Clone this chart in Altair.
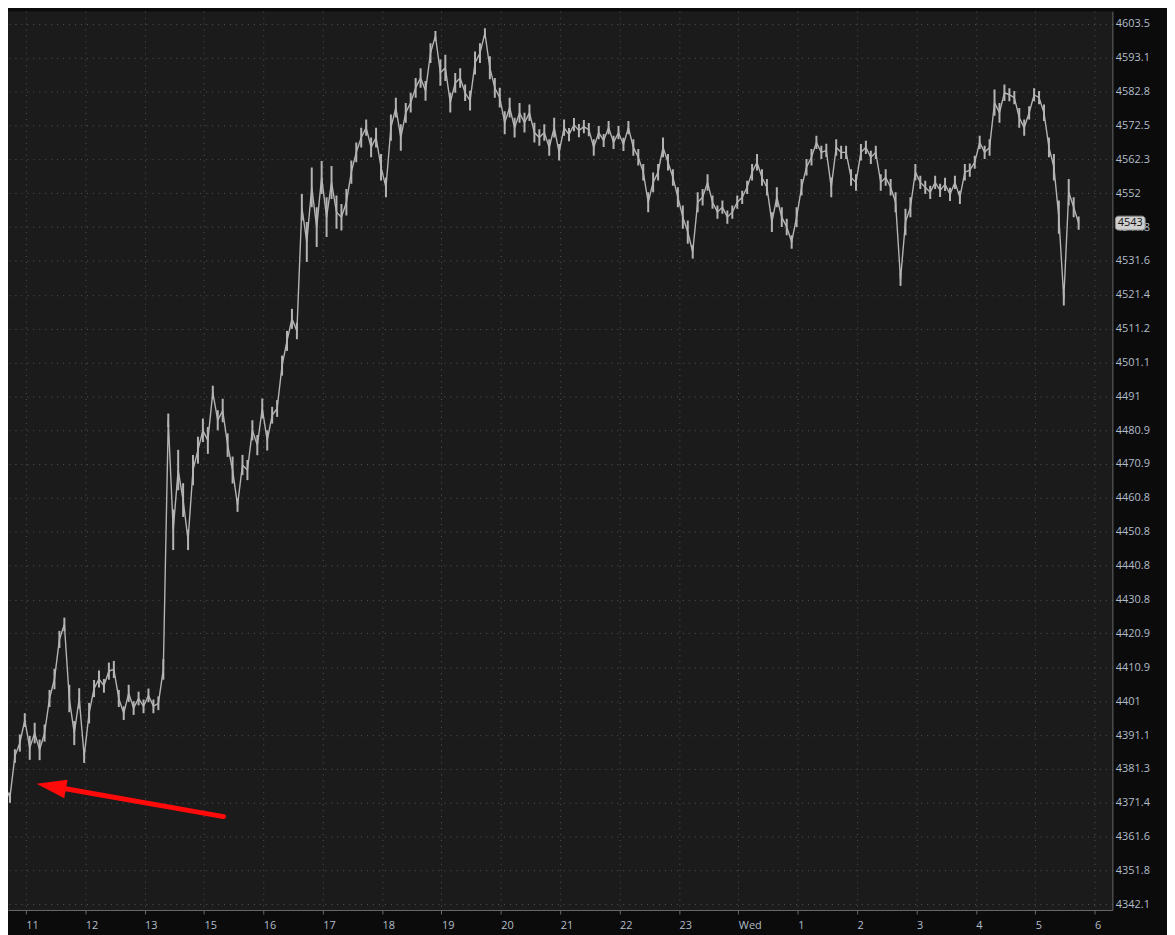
import json
import numpy as np
import pandas as pd
import altair as alt

# ---- data ------------------------------------------------------------
hour_labels = ["11", "12", "13", "15", "16", "17", "18", "19", "20", "21",
               "22", "23", "Wed", "1", "2", "3", "4", "5", "6"]

price_ticks = [4603.5, 4593.1, 4582.8, 4572.5, 4562.3, 4552, 4541.8, 4531.6,
               4521.4, 4511.2, 4501.1, 4491, 4480.9, 4470.9, 4460.8, 4450.8,
               4440.8, 4430.8, 4420.9, 4410.9, 4401, 4391.1, 4381.3, 4371.4,
               4361.6, 4351.8, 4342.1]

# 5-minute prices
closes = [
    4386.8, 4376.3, 4372.9, 4385.0, 4388.8, 4395.5, 4387.4, 4391.7, 4386.8, 4391.7,
    4401.8, 4407.5, 4419.1, 4423.5, 4401.8, 4391.7, 4401.8, 4385.0, 4397.5, 4404.7,
    4407.5, 4405.5, 4409.8, 4410.3, 4401.8, 4397.5, 4403.3, 4399.0, 4401.8, 4399.5,
    4402.7, 4399.5, 4400.4, 4410.3, 4483.9, 4451.4, 4469.1, 4460.2, 4448.4, 4469.1,
    4475.0, 4480.9, 4477.9, 4492.2, 4483.9, 4486.8, 4476.5, 4469.1, 4458.7, 4470.6,
    4469.1, 4480.9, 4476.5, 4487.4, 4477.9, 4485.4, 4487.4, 4500.2, 4507.6, 4514.2,
    4510.6, 4547.8, 4537.3, 4553.8, 4541.8, 4556.8, 4544.8, 4555.3, 4546.3, 4544.8,
    4549.3, 4558.4, 4564.4, 4568.9, 4571.9, 4565.9, 4568.9, 4559.9, 4553.8, 4571.9,
    4578.0, 4568.9, 4576.4, 4579.5, 4584.0, 4587.0, 4583.1, 4594.6, 4599.8, 4588.6,
    4590.1, 4579.5, 4585.5, 4587.0, 4582.5, 4580.1, 4591.6, 4594.6, 4600.7, 4590.1,
    4584.0, 4581.0, 4573.4, 4578.0, 4571.9, 4576.4, 4573.4, 4576.4, 4570.4, 4568.9,
    4570.4, 4565.9, 4571.9, 4564.4, 4571.9, 4569.8, 4572.8, 4571.0, 4572.2, 4571.3,
    4565.9, 4570.4, 4568.0, 4571.9, 4567.4, 4570.4, 4566.8, 4571.9, 4565.9, 4562.9,
    4558.4, 4549.3, 4555.3, 4558.4, 4565.9, 4561.4, 4556.8, 4550.8, 4544.8, 4540.3,
    4534.3, 4549.3, 4550.8, 4555.3, 4549.3, 4546.3, 4547.8, 4544.8, 4546.3, 4549.3,
    4550.8, 4553.8, 4558.4, 4561.4, 4556.8, 4553.8, 4543.3, 4550.8, 4544.8, 4541.8,
    4537.3, 4544.8, 4553.8, 4559.9, 4562.9, 4567.4, 4564.4, 4565.0, 4553.8, 4565.9,
    4564.4, 4564.4, 4556.8, 4555.3, 4564.4, 4565.9, 4562.9, 4564.4, 4555.3, 4556.8,
    4553.8, 4549.3, 4526.1, 4543.3, 4547.8, 4558.4, 4555.3, 4553.8, 4552.3, 4555.3,
    4552.9, 4554.7, 4551.7, 4555.3, 4550.8, 4558.4, 4559.0, 4561.4, 4567.4, 4564.4,
    4565.9, 4579.5, 4576.4, 4582.5, 4581.9, 4581.0, 4574.9, 4571.9, 4576.4, 4581.9,
    4581.0, 4576.4, 4565.9, 4559.9, 4544.8, 4520.2, 4552.3, 4547.8, 4543.0,
]
# vertical extent (price points) of each 5-minute bar
ranges = [
    6, 8, 3, 4, 5, 4, 7, 6, 6, 5,
    5, 6, 5, 4, 8, 7, 6, 4, 6, 5,
    5, 4, 5, 5, 5, 4, 5, 4, 4, 4,
    4, 4, 4, 6, 4, 12, 12, 10, 6, 9,
    8, 7, 8, 4, 6, 7, 7, 8, 4, 6,
    6, 6, 6, 6, 6, 5, 5, 6, 6, 6,
    5, 8, 12, 12, 12, 10, 12, 10, 10, 8,
    8, 7, 6, 6, 5, 6, 6, 8, 6, 8,
    6, 8, 6, 6, 6, 6, 6, 6, 3, 8,
    8, 6, 6, 6, 5, 6, 7, 6, 3, 7,
    6, 6, 7, 6, 6, 6, 6, 5, 6, 5,
    5, 5, 6, 5, 5, 4, 4, 4, 4, 4,
    5, 4, 4, 4, 4, 4, 4, 4, 5, 5,
    5, 6, 6, 5, 6, 5, 5, 6, 7, 7,
    4, 6, 5, 5, 4, 4, 4, 4, 4, 4,
    4, 4, 5, 5, 5, 5, 6, 6, 6, 5,
    4, 6, 5, 5, 5, 4, 4, 4, 6, 5,
    4, 4, 5, 5, 5, 4, 4, 4, 5, 5,
    5, 6, 4, 8, 6, 5, 4, 4, 4, 4,
    4, 4, 4, 4, 4, 5, 4, 4, 4, 4,
    5, 8, 6, 5, 4, 4, 6, 5, 4, 4,
    4, 5, 6, 8, 10, 4, 8, 6, 4,
]
start_hour = -0.435          # axis position (hours after the "11" tick) of first bar
bar_hours = 5 / 60
last_price = 4543

# red annotation arrow (axis units)
arrow_hours = [0.669, 3.329]
arrow_prices = [4375.5, 4367.4]
arrow_head_hour = [0.427]
arrow_head_price = [4376.2]

# ---- frames ----------------------------------------------------------
times = start_hour + np.arange(len(closes)) * bar_hours
df = pd.DataFrame({"t": times, "price": closes, "rng": ranges})
df["lo"] = df["price"] - df["rng"] / 2
df["hi"] = df["price"] + df["rng"] / 2
arrow_df = pd.DataFrame({"t": arrow_hours, "price": arrow_prices})
head_df = pd.DataFrame({"t": arrow_head_hour, "price": arrow_head_price})
tag_df = pd.DataFrame({"price": [last_price], "label": [str(last_price)]})

W, H = 1112, 905
x_dom = [-0.301, 18.30]
y_dom = [4340.4, 4607.4]

label_expr = json.dumps(hour_labels) + "[datum.value]"

x_scale = alt.Scale(domain=x_dom, nice=False, zero=False)
x_enc = alt.X("t:Q", scale=x_scale,
              axis=alt.Axis(values=list(range(len(hour_labels))), labelExpr=label_expr,
                            title=None, labelAlign="left", labelPadding=6,
                            tickSize=4, grid=True))
y_scale = alt.Scale(type="log", domain=y_dom, nice=False, zero=False)
y_enc = alt.Y("price:Q", scale=y_scale,
              axis=alt.Axis(orient="right", values=price_ticks, format=".5~r",
                            title=None, labelPadding=3, tickSize=0, grid=True))

line = alt.Chart(df).mark_line(color="#b4b4b4", strokeWidth=1.4, clip=True,
                               interpolate="linear").encode(x=x_enc, y=y_enc)

bars = alt.Chart(df).mark_rule(color="#b4b4b4", strokeWidth=2, clip=True).encode(
    x=alt.X("t:Q", scale=x_scale),
    y=alt.Y("lo:Q", scale=y_scale), y2="hi:Q")

arrow_line = alt.Chart(arrow_df).mark_line(color="#ff0a0a", strokeWidth=5,
                                           strokeCap="round", clip=True).encode(
    x=alt.X("t:Q", scale=x_scale),
    y=alt.Y("price:Q", scale=y_scale))

arrow_head = alt.Chart(head_df).mark_point(
    shape="M -1 0 L 1 -0.63 L 1 0.63 Z", size=900, angle=10, filled=True,
    color="#ff0a0a", opacity=1, strokeWidth=0).encode(
    x=alt.X("t:Q", scale=x_scale),
    y=alt.Y("price:Q", scale=y_scale))

tag_box = alt.Chart(tag_df).mark_rect(
    yOffset=-7, y2Offset=7, cornerRadius=3, fill="#cfcfcf", stroke="#8a8a8a",
    strokeWidth=1, clip=False).encode(
    x=alt.value(W + 3), x2=alt.value(W + 33),
    y=alt.Y("price:Q", scale=y_scale), y2="price:Q")

tag_text = alt.Chart(tag_df).mark_text(
    font="Open Sans", fontSize=11, color="#111111", align="center",
    baseline="middle", clip=False).encode(
    x=alt.value(W + 18), y=alt.Y("price:Q", scale=y_scale), text="label:N")

chart = alt.layer(line, bars, arrow_line, arrow_head, tag_box, tag_text).properties(
    width=W, height=H,
    autosize=alt.AutoSizeParams(type="none"),
    padding={"left": 0, "top": 0, "right": 55, "bottom": 22},
    background="#0b0b0b",
).configure_view(
    fill="#1b1b1b", stroke=None
).configure_axis(
    gridColor="#575757", gridDash=[1, 5], gridWidth=1, gridOpacity=1,
    domainColor="#6a6a6a", domainWidth=1, tickColor="#6a6a6a",
    labelColor="#b2bdca", labelFont="Open Sans", labelFontSize=11,
)

chart.save("out.html", embed_options={"renderer": "svg", "actions": False})
